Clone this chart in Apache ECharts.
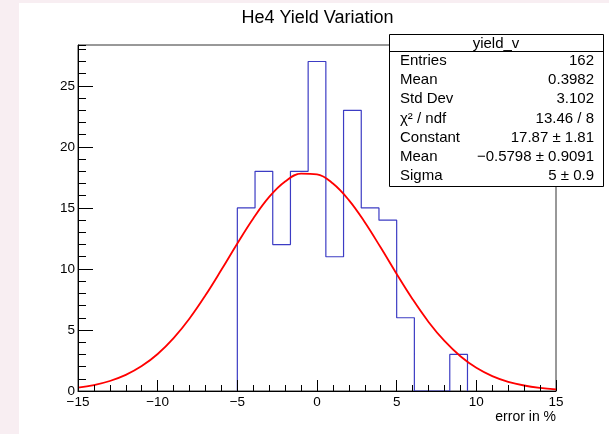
<!DOCTYPE html>
<html><head><meta charset="utf-8">
<script src="https://cdn.jsdelivr.net/npm/echarts@6/dist/echarts.min.js"></script>
<style>html,body{margin:0;padding:0;background:#f8eef2}#c{width:609px;height:434px}</style>
</head><body><div id="c"></div>
<script>
// ---- data ----
const histLow = -15, histHigh = 15;
const binCounts = [0,0,0,0,0,0,0,0,0,15,18,12,18,27,11,23,15,14,6,0,0,3,0,0,0,0,0];
const fitX = [-15,-14,-13,-12,-11,-10,-9,-8,-7,-6,-5,-4,-3,-2,-1,0,1,2,3,4,5,6,7,8,9,10,11,12,13,14,15];
const fitY = [0.28,0.49,0.82,1.32,2.04,3.03,4.33,5.94,7.84,9.93,12.09,14.14,15.90,17.16,17.81,17.75,17.00,15.64,13.83,11.75,9.59,7.52,5.66,4.10,2.85,1.90,1.22,0.75,0.45,0.26,0.14];
const xTickLabels = ['−15','−10','−5','0','5','10','15'];
const yTickLabels = ['0','5','10','15','20','25'];
const yMax = 28.35;
const titleText = 'He4 Yield Variation';
const xTitle = 'error in %';
const statsTitle = 'yield_v';
const statNames = ['Entries','Mean','Std Dev','χ² / ndf','Constant','Mean','Sigma'];
const statValues = ['162','0.3982','3.102','13.46 / 8','17.87 ± 1.81','−0.5798 ± 0.9091','5 ± 0.9'];

// ---- build ----
const bw = (histHigh - histLow) / binCounts.length;
let first = binCounts.findIndex(v => v > 0);
let last = binCounts.length - 1 - [...binCounts].reverse().findIndex(v => v > 0);
const outline = [];
let prev = 0;
for (let i = first; i <= last; i++) {
  const e = histLow + i * bw;
  outline.push([e, prev]);
  outline.push([e, binCounts[i]]);
  prev = binCounts[i];
}
outline.push([histLow + (last + 1) * bw, prev]);
outline.push([histLow + (last + 1) * bw, 0]);
const fitData = fitX.map((x, i) => [x, fitY[i]]);

const FONT = 'Liberation Sans, Arial, Helvetica, sans-serif';
const chart = echarts.init(document.getElementById('c'), null, {renderer: 'canvas'});

const gl = 78, gr = 556, gt = 45, gb = 391;
const box = {x: 389, y: 34, w: 214, h: 152, head: 17};
const rowH = (box.h - box.head) / statNames.length;
const graphics = [
  {type: 'rect', z: -10, silent: true, shape: {x: 19, y: 3, width: 609, height: 434}, style: {fill: '#ffffff'}},
  {type: 'text', x: 317.5, y: 18, style: {text: titleText, font: '18px ' + FONT, fill: '#000', align: 'center', verticalAlign: 'middle'}},
  {type: 'text', x: 556, y: 417, style: {text: xTitle, font: '14px ' + FONT, fill: '#000', align: 'right', verticalAlign: 'middle'}},
  {type: 'rect', z: 50, shape: {x: box.x + 0.5, y: box.y + 0.5, width: box.w, height: box.h}, style: {fill: '#fff', stroke: '#000', lineWidth: 1}},
  {type: 'line', z: 51, shape: {x1: box.x, y1: box.y + box.head + 0.5, x2: box.x + box.w, y2: box.y + box.head + 0.5}, style: {stroke: '#000', lineWidth: 1}},
  {type: 'text', z: 52, x: box.x + box.w / 2, y: box.y + box.head / 2 + 1, style: {text: statsTitle, font: '15px ' + FONT, fill: '#000', align: 'center', verticalAlign: 'middle'}}
];
statNames.forEach((n, i) => {
  const cy = box.y + box.head + rowH * (i + 0.5);
  graphics.push({type: 'text', z: 52, x: box.x + 11, y: cy, style: {text: n, font: '15px ' + FONT, fill: '#000', align: 'left', verticalAlign: 'middle'}});
  graphics.push({type: 'text', z: 52, x: box.x + box.w - 9, y: cy, style: {text: statValues[i], font: '15px ' + FONT, fill: '#000', align: 'right', verticalAlign: 'middle'}});
});

const xFmt = v => { const i = [-15,-10,-5,0,5,10,15].indexOf(v); return i >= 0 ? xTickLabels[i] : ''; };
const yFmt = v => { const i = [0,5,10,15,20,25].indexOf(v); return i >= 0 ? yTickLabels[i] : ''; };

chart.setOption({
  backgroundColor: 'transparent',
  animation: false,
  grid: {left: gl, right: 609 - gr, top: gt, bottom: 434 - gb, show: true, borderColor: '#333', borderWidth: 1, backgroundColor: 'transparent'},
  xAxis: [{
    type: 'value', min: histLow, max: histHigh, interval: 5, position: 'bottom', z: 10,
    axisLine: {show: true, onZero: false, lineStyle: {color: '#000', width: 1}},
    axisTick: {show: true, inside: true, length: 11, lineStyle: {color: '#000'}},
    minorTick: {show: true, splitNumber: 5, length: 6, lineStyle: {color: '#000'}},
    axisLabel: {formatter: xFmt, fontSize: 13.5, fontFamily: FONT, color: '#000', margin: 4},
    splitLine: {show: false}, minorSplitLine: {show: false}
  }],
  yAxis: [{
    type: 'value', min: 0, max: yMax, interval: 1, position: 'left', z: 10,
    axisLine: {show: true, onZero: false, lineStyle: {color: '#000', width: 1}},
    axisTick: {show: true, inside: true, length: 8, lineStyle: {color: '#000'}},
    axisLabel: {show: false}, splitLine: {show: false}
  }, {
    type: 'value', min: 0, max: yMax, interval: 5, position: 'left', offset: 0, z: 10,
    axisLine: {show: false, onZero: false},
    axisTick: {show: true, inside: true, length: 15, lineStyle: {color: '#000'}},
    axisLabel: {formatter: yFmt, fontSize: 13.5, fontFamily: FONT, color: '#000', margin: 3, showMaxLabel: false},
    splitLine: {show: false}
  }],
  series: [{
    type: 'line', data: outline, xAxisIndex: 0, yAxisIndex: 0, symbol: 'none', z: 2,
    lineStyle: {color: '#3c3cc4', width: 1.2}, silent: true
  }, {
    type: 'line', data: fitData, xAxisIndex: 0, yAxisIndex: 0, symbol: 'none', smooth: 0.4, z: 3,
    lineStyle: {color: '#ff0000', width: 1.8}, silent: true
  }],
  graphic: graphics
});
</script></body></html>
